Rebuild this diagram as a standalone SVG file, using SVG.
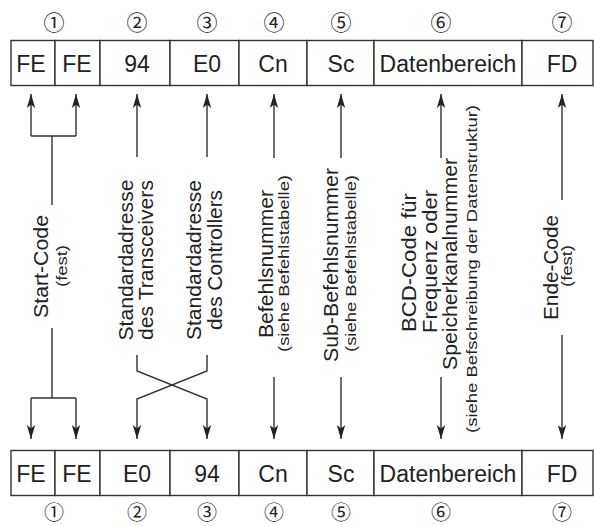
<svg xmlns="http://www.w3.org/2000/svg" width="594" height="526" viewBox="0 0 594 526">
<defs>
<marker id="ah" markerUnits="userSpaceOnUse" markerWidth="16" markerHeight="10" viewBox="-15 -5 16 10" refX="0" refY="0" orient="auto">
<path d="M0,0 L-14,-4.2 L-10.5,0 L-14,4.2 Z" fill="#222"/>
</marker>
</defs>
<style>
.cell{fill:#fff;stroke:#333;stroke-width:1.4}
.bt{font-family:"Liberation Sans",Arial,sans-serif;font-size:23px;fill:#222;text-anchor:middle}
.num{font-family:"Noto Sans CJK JP","DejaVu Sans",sans-serif;font-size:21px;fill:#222;text-anchor:middle}
.numb{font-family:"Noto Sans CJK JP","DejaVu Sans",sans-serif;font-size:20px;fill:#222;text-anchor:middle}
.lb{font-family:"Liberation Sans",Arial,sans-serif;font-size:21px;fill:#222;text-anchor:middle}
.sm{font-family:"Liberation Sans",Arial,sans-serif;font-size:14px;fill:#222;text-anchor:middle}
.ln{fill:none;stroke:#333;stroke-width:1.4}
.ar{fill:none;stroke:#333;stroke-width:1.4;marker-end:url(#ah)}
</style>
<rect width="594" height="526" fill="#fff"/>

<g id="top-frame">
<g id="t1a"><rect class="cell" x="11" y="40.5" width="44" height="45"/><text class="bt" x="31" y="71.5">FE</text></g>
<g id="t1b"><rect class="cell" x="55" y="40.5" width="45" height="45"/><text class="bt" x="77" y="71.5">FE</text></g>
<g id="t2"><rect class="cell" x="100" y="40.5" width="70" height="45"/><text class="bt" x="137" y="71.5">94</text></g>
<g id="t3"><rect class="cell" x="170" y="40.5" width="69" height="45"/><text class="bt" x="207" y="71.5">E0</text></g>
<g id="t4"><rect class="cell" x="239" y="40.5" width="68" height="45"/><text class="bt" x="273" y="71.5">Cn</text></g>
<g id="t5"><rect class="cell" x="307" y="40.5" width="67" height="45"/><text class="bt" x="341" y="71.5">Sc</text></g>
<g id="t6"><rect class="cell" x="374" y="40.5" width="148" height="45"/><text class="bt" x="448" y="71.5">Datenbereich</text></g>
<g id="t7"><rect class="cell" x="522" y="40.5" width="71" height="45"/><text class="bt" x="562" y="71.5">FD</text></g>
</g>

<g id="top-numbers">
<text class="num" x="54" y="30">①</text>
<text class="num" x="137" y="30">②</text>
<text class="num" x="207" y="30">③</text>
<text class="num" x="274" y="30">④</text>
<text class="num" x="341" y="30">⑤</text>
<text class="num" x="441" y="30">⑥</text>
<text class="num" x="562" y="30">⑦</text>
</g>

<g id="bottom-frame">
<g id="b1a"><rect class="cell" x="11" y="450.5" width="44" height="45"/><text class="bt" x="31" y="481.5">FE</text></g>
<g id="b1b"><rect class="cell" x="55" y="450.5" width="45" height="45"/><text class="bt" x="77" y="481.5">FE</text></g>
<g id="b2"><rect class="cell" x="100" y="450.5" width="70" height="45"/><text class="bt" x="137" y="481.5">E0</text></g>
<g id="b3"><rect class="cell" x="170" y="450.5" width="69" height="45"/><text class="bt" x="207" y="481.5">94</text></g>
<g id="b4"><rect class="cell" x="239" y="450.5" width="68" height="45"/><text class="bt" x="273" y="481.5">Cn</text></g>
<g id="b5"><rect class="cell" x="307" y="450.5" width="67" height="45"/><text class="bt" x="341" y="481.5">Sc</text></g>
<g id="b6"><rect class="cell" x="374" y="450.5" width="148" height="45"/><text class="bt" x="448" y="481.5">Datenbereich</text></g>
<g id="b7"><rect class="cell" x="522" y="450.5" width="71" height="45"/><text class="bt" x="562" y="481.5">FD</text></g>
</g>

<g id="bottom-numbers">
<text class="numb" x="54" y="519.5">①</text>
<text class="numb" x="137" y="519.5">②</text>
<text class="numb" x="207" y="519.5">③</text>
<text class="numb" x="274" y="519.5">④</text>
<text class="numb" x="341" y="519.5">⑤</text>
<text class="numb" x="441" y="519.5">⑥</text>
<text class="numb" x="562" y="519.5">⑦</text>
</g>

<g id="lbl-start">
<text class="lb" transform="translate(48,266.5) rotate(-90)" textLength="103" lengthAdjust="spacingAndGlyphs">Start-Code</text>
<text class="sm" transform="translate(67,266) rotate(-90)" textLength="42" lengthAdjust="spacingAndGlyphs">(fest)</text>
</g>
<g id="lbl-transceiver">
<text class="lb" transform="translate(133,260) rotate(-90)" textLength="161" lengthAdjust="spacingAndGlyphs">Standardadresse</text>
<text class="lb" transform="translate(153,260) rotate(-90)" textLength="160" lengthAdjust="spacingAndGlyphs">des Transceivers</text>
</g>
<g id="lbl-controller">
<text class="lb" transform="translate(201,260) rotate(-90)" textLength="160" lengthAdjust="spacingAndGlyphs">Standardadresse</text>
<text class="lb" transform="translate(222,260) rotate(-90)" textLength="140" lengthAdjust="spacingAndGlyphs">des Controllers</text>
</g>
<g id="lbl-cmd">
<text class="lb" transform="translate(273,264) rotate(-90)" textLength="148" lengthAdjust="spacingAndGlyphs">Befehlsnummer</text>
<text class="sm" transform="translate(289,263.5) rotate(-90)" textLength="177" lengthAdjust="spacingAndGlyphs">(siehe Befehlstabelle)</text>
</g>
<g id="lbl-subcmd">
<text class="lb" transform="translate(338,265) rotate(-90)" textLength="194" lengthAdjust="spacingAndGlyphs">Sub-Befehlsnummer</text>
<text class="sm" transform="translate(356,263.5) rotate(-90)" textLength="177" lengthAdjust="spacingAndGlyphs">(siehe Befehlstabelle)</text>
</g>
<g id="lbl-data">
<text class="lb" transform="translate(416,262.5) rotate(-90)" textLength="139" lengthAdjust="spacingAndGlyphs">BCD-Code für</text>
<text class="lb" transform="translate(437,261.5) rotate(-90)" textLength="143" lengthAdjust="spacingAndGlyphs">Frequenz oder</text>
<text class="lb" transform="translate(457,264) rotate(-90)" textLength="212" lengthAdjust="spacingAndGlyphs">Speicherkanalnummer</text>
<text class="sm" transform="translate(477,269) rotate(-90)" textLength="328" lengthAdjust="spacingAndGlyphs">(siehe Befschreibung der Datenstruktur)</text>
</g>
<g id="lbl-end">
<text class="lb" transform="translate(558,267.5) rotate(-90)" textLength="105" lengthAdjust="spacingAndGlyphs">Ende-Code</text>
<text class="sm" transform="translate(572,266) rotate(-90)" textLength="42" lengthAdjust="spacingAndGlyphs">(fest)</text>
</g>

<g id="connectors">
<path class="ln" d="M52,205 V136 M31,136 H76"/>
<path class="ar" d="M31,136 V94"/>
<path class="ar" d="M76,136 V94"/>
<path class="ln" d="M52,328 V398 M31,398 H76"/>
<path class="ar" d="M31,398 V439"/>
<path class="ar" d="M76,398 V439"/>
<path class="ar" d="M137,157 V94"/>
<path class="ar" d="M207,157 V94"/>
<path class="ar" d="M137,355 V371 L207,399 V439"/>
<path class="ar" d="M207,355 V371 L137,399 V439"/>
<path class="ar" d="M274,158 V94"/>
<path class="ar" d="M274,377 V439"/>
<path class="ar" d="M341,158 V94"/>
<path class="ar" d="M341,377 V439"/>
<path class="ar" d="M441,158 V94"/>
<path class="ar" d="M441,377 V439"/>
<path class="ar" d="M562,200 V94"/>
<path class="ar" d="M562,335 V439"/>
</g>
</svg>
